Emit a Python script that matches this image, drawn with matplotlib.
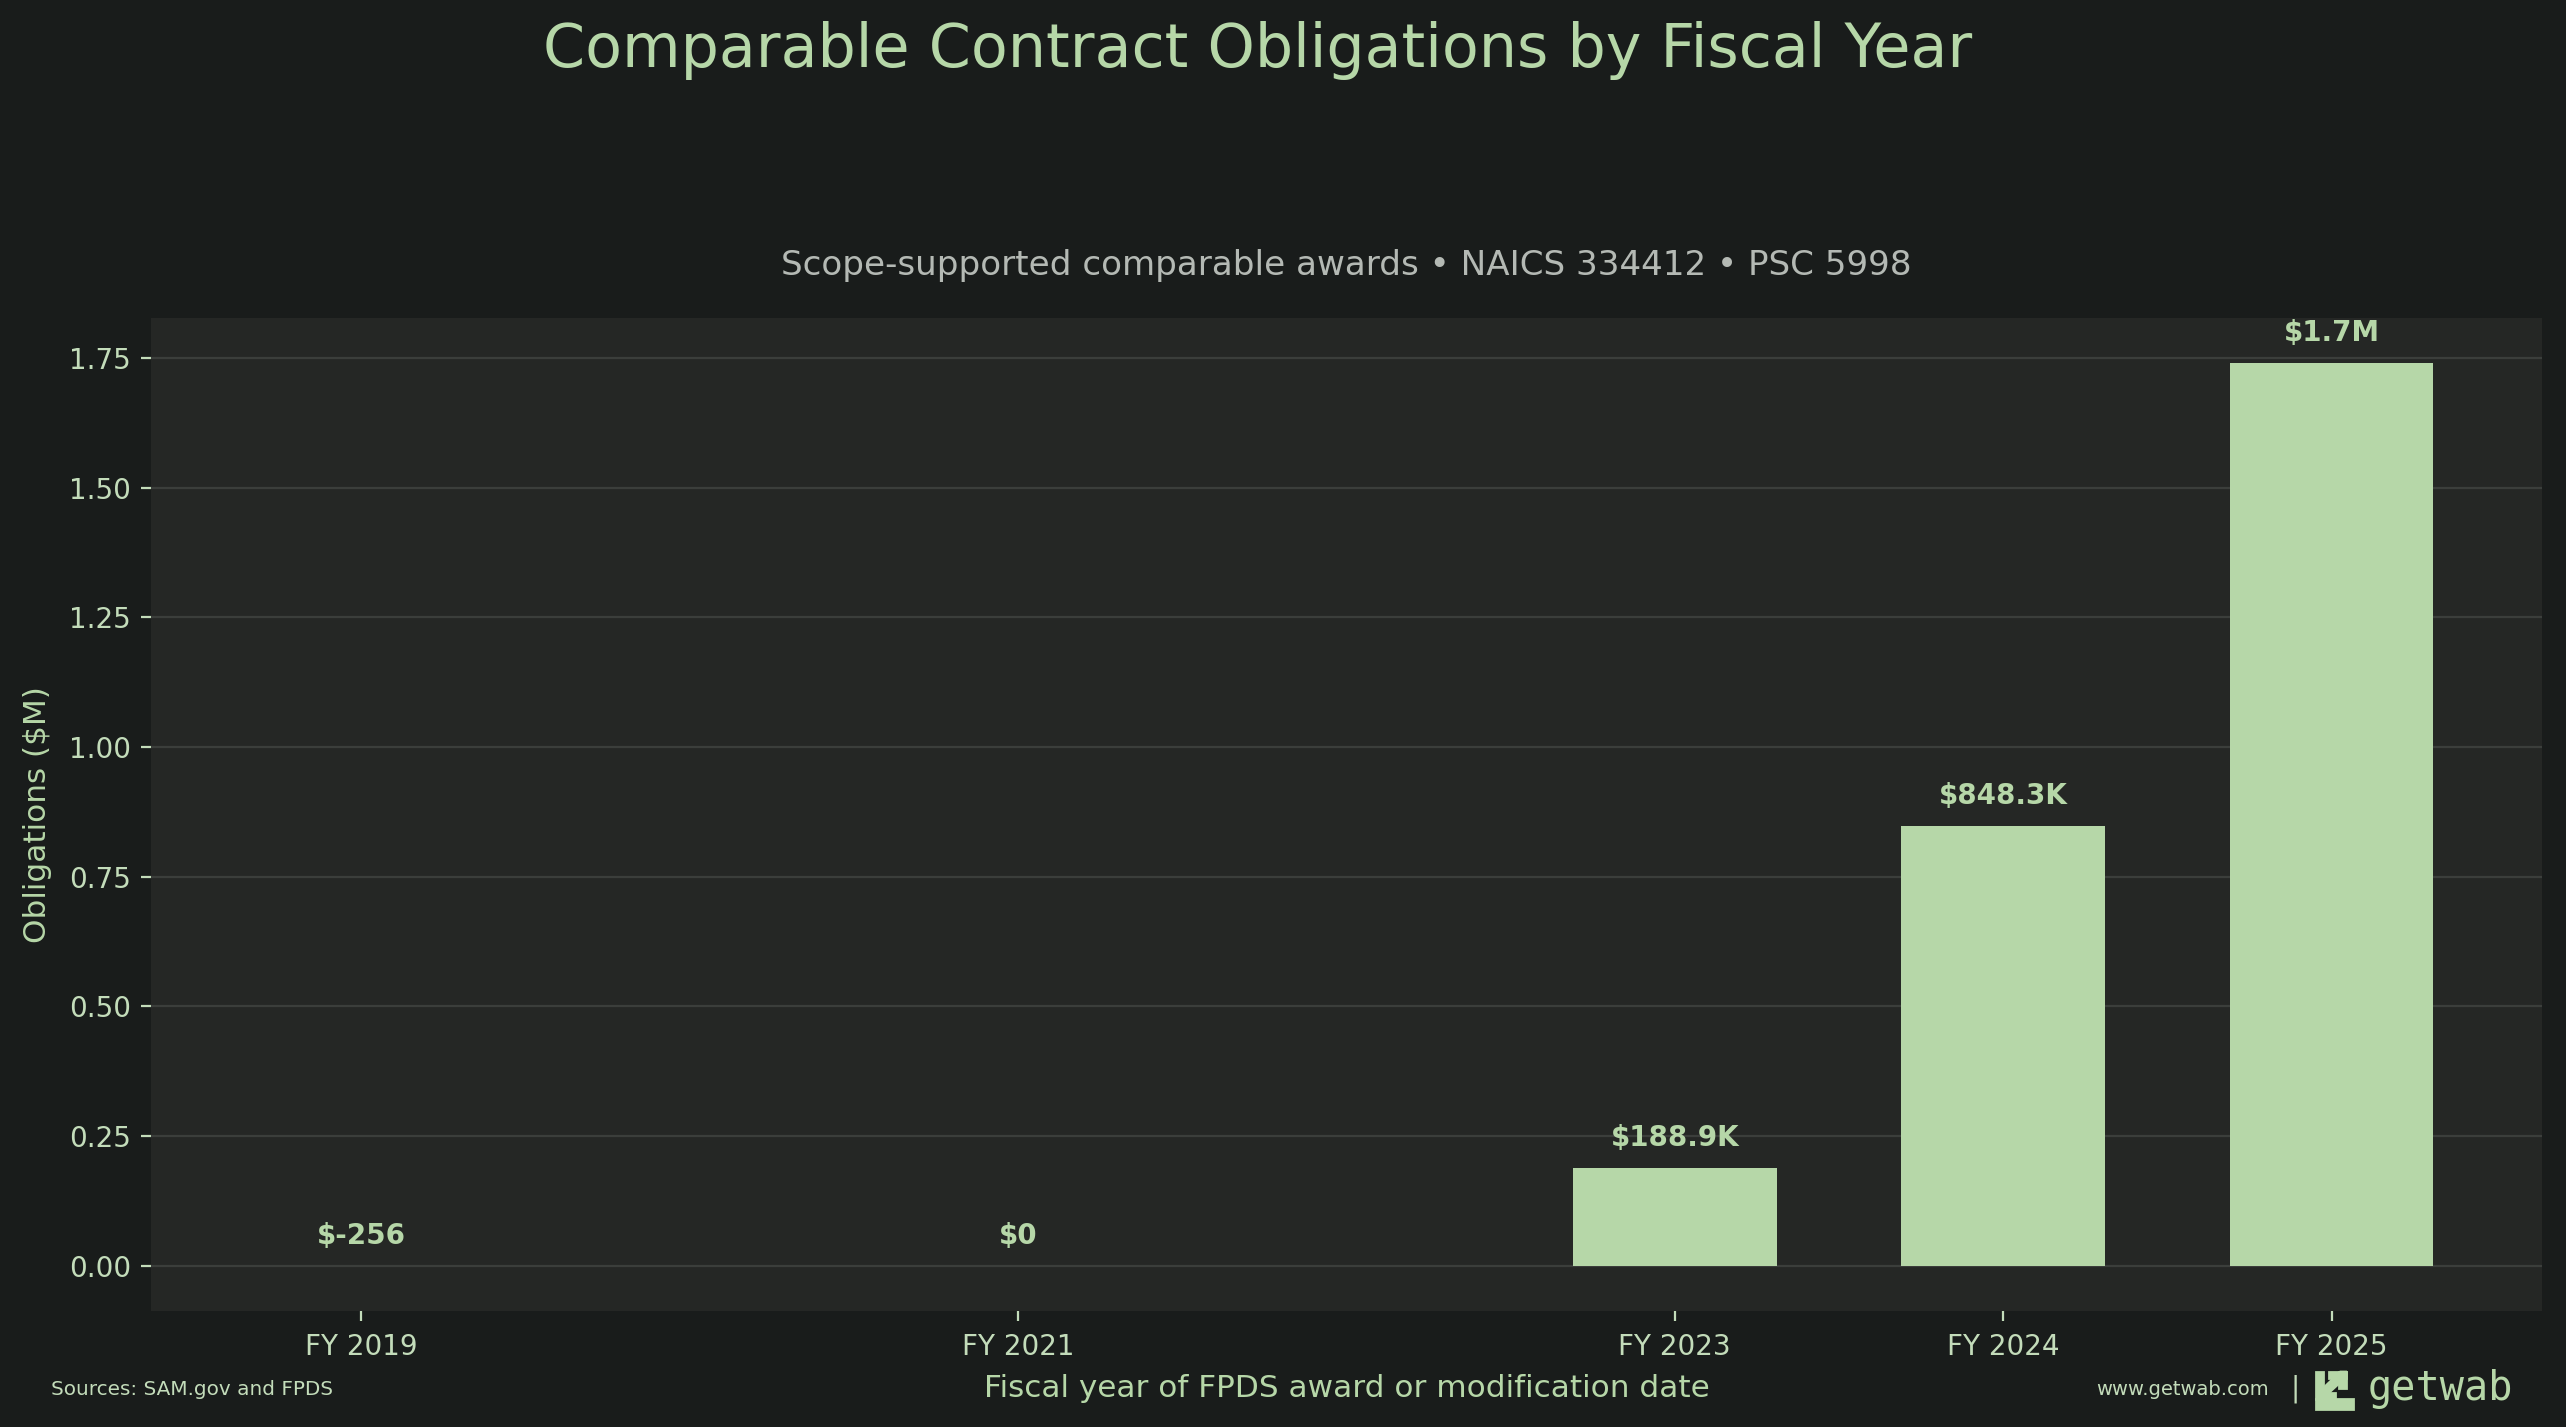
import matplotlib
matplotlib.use('Agg')
from matplotlib import pyplot as plt
from matplotlib.patches import Rectangle, Polygon
from matplotlib.ticker import MultipleLocator

plt.rcParams['font.family'] = ['DejaVu Sans']

# values, in $M
years = [2019, 2021, 2023, 2024, 2025]
obligations = [-0.000256, 0.0, 0.1889, 0.8483, 1.7406]
bar_labels = ['$-256', '$0', '$188.9K', '$848.3K', '$1.7M']
tick_labels = ['FY 2019', 'FY 2021', 'FY 2023', 'FY 2024', 'FY 2025']

BG = '#191c1b'
PANEL = '#252725'
GREEN = '#b6d7a8'
TICK = '#c3dcba'
GRID = '#3b3e3b'
SUB = '#b4b9b4'


def graphing():
    fig = plt.figure(dpi=200, figsize=(12.83, 7.135), facecolor=BG)
    ax = fig.add_axes([0.0587, 0.0814, 0.932, 0.696])
    ax.set_facecolor(PANEL)

    ax.bar(years, obligations, width=0.62, color=GREEN, zorder=3)

    for x, v, lab in zip(years, obligations, bar_labels):
        ax.annotate(lab, (x, max(v, 0)), xytext=(0, 10.8),
                    textcoords='offset points', ha='center', va='center',
                    fontsize=10, fontweight='bold', color=GREEN, zorder=4)

    ax.set_xticks(years)
    ax.set_xticklabels(tick_labels)
    ax.yaxis.set_major_locator(MultipleLocator(0.25))
    ax.yaxis.set_major_formatter(plt.FormatStrFormatter('%.2f'))
    ax.grid(axis='y', color=GRID, linewidth=0.8, zorder=0)
    ax.set_axisbelow(True)
    for s in ax.spines.values():
        s.set_visible(False)
    ax.tick_params(axis='both', colors=TICK, labelsize=10, length=3.5,
                   width=0.8, labelcolor=TICK)
    ax.tick_params(axis='x', pad=4.6)

    ax.set_ylabel('Obligations ($M)', fontsize=11.2, color=GREEN)
    ax.yaxis.set_label_coords(-0.0412, 0.5)

    fig.text(0.49, 0.9645, 'Comparable Contract Obligations by Fiscal Year',
             ha='center', va='center', fontsize=21.7, color=GREEN)
    fig.text(0.5247, 0.8142,
             'Scope-supported comparable awards \u2022 NAICS 334412 \u2022 PSC 5998',
             ha='center', va='center', fontsize=12.3, color=SUB)
    fig.text(0.5247, 0.0273, 'Fiscal year of FPDS award or modification date',
             ha='center', va='center', fontsize=11.2, color=GREEN)

    # footer
    fig.text(0.0199, 0.0266, 'Sources: SAM.gov and FPDS', ha='left',
             va='center', fontsize=7.2, color=TICK)
    fig.text(0.884, 0.0266, 'www.getwab.com', ha='right', va='center',
             fontsize=7, color=TICK)
    fig.text(0.8945, 0.0266, '|', ha='center', va='center', fontsize=10,
             color=TICK)

    # logo mark
    W, H = 2566, 1427
    x0, y0, sz = 2316 / W, 1 - 1409 / H, 37

    def to_fig(pts):
        return [(x0 + px * sz / W, y0 + py * sz / H) for px, py in pts]

    shapes = [
        [(0, 0), (1, 0), (1, 0.26), (0, 0.26)],
        [(0, 0.26), (0.2, 0.26), (0.2, 1), (0, 1)],
        [(0.2, 0.26), (0.5, 0.26), (0.5, 0.42), (0.2, 0.42)],
        [(0.2, 0.42), (0.32, 0.42), (0.8, 0.86), (0.8, 1.0), (0.66, 1.0),
         (0.2, 0.56)],
        [(0.36, 0.84), (0.8, 0.84), (0.8, 1.0), (0.36, 1.0)],
        [(0.62, 0.56), (0.8, 0.56), (0.8, 1.0), (0.62, 1.0)],
    ]
    for shp in shapes:
        fig.patches.append(Polygon(to_fig(shp), closed=True, color=GREEN,
                                   transform=fig.transFigure, zorder=5))
    fig.text(2368 / W, 0.0266, 'getwab', ha='left', va='center',
             fontsize=14.5, color=GREEN, family='DejaVu Sans Mono')

    fig.savefig('out.png', dpi=200, facecolor=BG)


if __name__ == "__main__":
    graphing()
